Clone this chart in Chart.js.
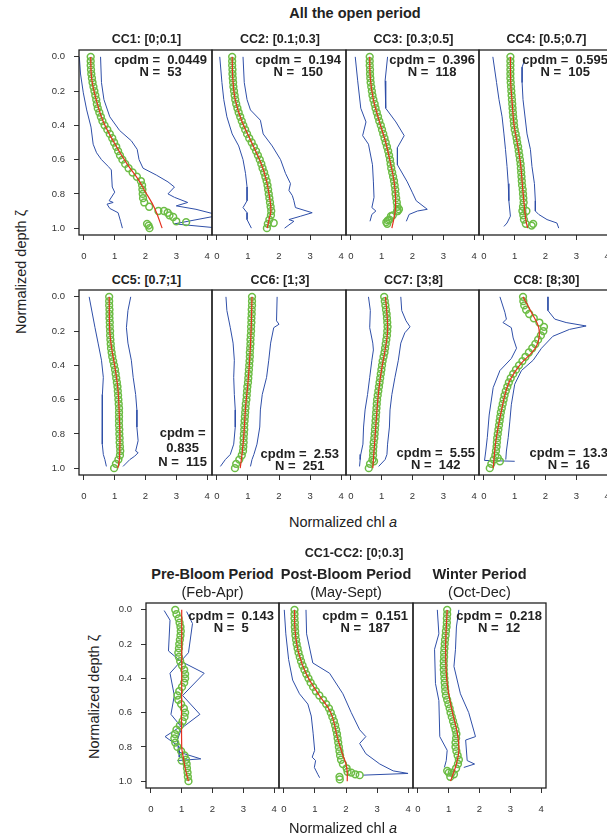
<!DOCTYPE html>
<html>
<head>
<meta charset="utf-8">
<script src="https://cdn.jsdelivr.net/npm/chart.js@4.4.1/dist/chart.umd.min.js"></script>
<style>
    body { margin: 0; width: 607px; height: 838px; overflow: hidden; background: #fff; position: relative;
           font-family: "Liberation Sans", Arial, Helvetica, sans-serif; color: #222; }
    canvas { position: absolute; }
    .lbl { position: absolute; white-space: pre; transform: translate(-50%, -50%); }
    .bold { font-weight: bold; }
    .note { position: absolute; white-space: pre; transform: translateX(-100%); text-align: center;
            font-weight: bold; font-size: 13px; line-height: 12px; }
    .rot { transform: translate(-50%, -50%) rotate(-90deg); }
</style>
</head>
<body>
<script>
// shared depth grid for the green profiles (normalized depth)
var DEPTH = [0, 0.025, 0.05, 0.075, 0.1, 0.125, 0.15, 0.175, 0.2, 0.225, 0.25, 0.275, 0.3, 0.325, 0.35, 0.375,
    0.4, 0.425, 0.45, 0.475, 0.5, 0.525, 0.55, 0.575, 0.6, 0.625, 0.65, 0.675, 0.7, 0.725, 0.75, 0.775,
    0.8, 0.825, 0.85, 0.875, 0.9, 0.925, 0.95, 0.975, 1];
var X_TICKS = [0, 1, 2, 3, 4];
var Y_TICKS = [0, 0.2, 0.4, 0.6, 0.8, 1];

var TITLES = ["CC1: [0;0.1]", "CC2: [0.1;0.3]", "CC3: [0.3;0.5]", "CC4: [0.5;0.7]",
    "CC5: [0.7;1]", "CC6: [1;3]", "CC7: [3;8]", "CC8: [8;30]"];
var PERIODS = ["Pre-Bloom Period", "Post-Bloom Period", "Winter Period"];
var MONTHS = ["(Feb-Apr)", "(May-Sept)", "(Oct-Dec)"];
var CPDM = ["0.0449", "0.194", "0.396", "0.595", "0.835", "2.53", "5.55", "13.3", "0.143", "0.151", "0.218"];
var NPROF = [53, 150, 118, 105, 115, 251, 142, 16, 5, 187, 12];

// green circles (chl values on DEPTH)
var CC1_PTS = [.22, .22, .22, .23, .24, .26, .28, .31, .34, .37, .40, .42, .45, .50, .55, .60, .67, .76, .84, .92,
    .98, 1.05, 1.11, 1.17, 1.25, 1.34, 1.45, 1.58, 1.72, 1.85, 1.89, 1.90, 1.91, 1.92, 1.96, 2.12, 2.42, 2.78, null, 2.05, 2.13];
var CC2_PTS = [.49, .49, .49, .50, .50, .51, .52, .53, .55, .57, .59, .62, .66, .70, .75, .80, .85, .91, .97, 1.04,
    1.12, 1.19, 1.26, 1.32, 1.38, 1.43, 1.47, 1.52, 1.56, 1.60, 1.63, 1.65, 1.67, 1.69, 1.71, 1.73, 1.75, 1.74, 1.69, 1.64, 1.61];
var CC3_PTS = [.61, .61, .61, .62, .62, .63, .64, .66, .68, .70, .73, .77, .80, .84, .88, .92, .97, 1.01, 1.05, 1.09,
    1.13, 1.17, 1.21, 1.24, 1.27, 1.29, 1.31, 1.34, 1.37, 1.40, 1.42, 1.44, 1.45, 1.47, 1.49, 1.51, 1.50, 1.36, 1.25, 1.18, null];
var CC4_PTS = [.86, .86, .86, .86, .86, .86, .87, .88, .89, .90, .91, .92, .93, .94, .95, .97, .98, 1.00, 1.03, 1.06,
    1.08, 1.11, 1.13, 1.15, 1.17, 1.19, 1.20, 1.21, 1.22, 1.23, 1.24, 1.26, 1.27, 1.28, 1.29, 1.27, 1.25, 1.28, 1.30, 1.36, null];
var CC5_PTS = [.82, .82, .82, .83, .83, .83, .84, .84, .85, .85, .86, .87, .88, .90, .92, .95, .98, 1.01, 1.03, 1.05,
    1.07, 1.09, 1.10, 1.11, 1.12, 1.13, 1.14, 1.14, 1.14, 1.14, 1.14, 1.15, 1.15, 1.16, 1.16, 1.17, 1.18, 1.17, 1.12, 1.04, .98];
var CC6_PTS = [1.13, 1.13, 1.13, 1.12, 1.12, 1.11, 1.11, 1.10, 1.10, 1.09, 1.08, 1.08, 1.07, 1.06, 1.06, 1.05, 1.04, 1.03, 1.02, 1.01,
    1.00, .98, .97, .96, .95, .93, .92, .91, .90, .89, .88, .88, .87, .86, .86, .85, .84, .80, .72, .62, .58];
var CC7_PTS = [1.08, 1.10, 1.12, 1.14, 1.16, 1.17, 1.18, 1.19, 1.18, 1.17, 1.15, 1.13, 1.11, 1.09, 1.06, 1.03, 1.01, .99, .97, .95,
    .93, .91, .89, .87, .85, .84, .83, .82, .81, .80, .79, .78, .77, .76, .74, .73, .72, .72, .70, .62, .58];
var CC8_PTS = [1.27, 1.28, 1.31, 1.37, 1.47, 1.62, 1.80, 1.95, 1.93, 1.85, 1.76, 1.67, 1.57, 1.46, 1.35, 1.25, 1.14, 1.04, .95, .87,
    .81, .76, .71, .67, .64, .61, .58, .55, .53, .51, .49, .47, .45, .43, .42, .41, .39, .37, .32, .24, .19];
var PRE_PTS = [.79, .83, .90, .93, .96, .97, .96, .94, .92, .91, .89, .91, .95, 1.01, 1.08, 1.11, 1.11, 1.08, 1.01, .92,
    .86, .89, .98, 1.07, 1.11, 1.09, 1.03, .94, .83, .78, .76, .79, .86, .98, 1.09, 1.14, 1.16, 1.17, 1.19, 1.20, 1.22];
var POST_PTS = [.34, .34, .34, .35, .35, .36, .37, .39, .41, .44, .47, .51, .55, .60, .66, .72, .79, .86, .94, 1.03,
    1.14, 1.26, 1.36, 1.45, 1.51, 1.56, 1.61, 1.65, 1.68, 1.71, 1.73, 1.75, 1.77, 1.79, 1.81, 1.84, 1.90, 2.02, 2.17, null, null];
var WIN_PTS = [.95, .95, .94, .94, .93, .91, .90, .88, .87, .86, .85, .85, .84, .84, .84, .85, .86, .87, .88, .89,
    .91, .95, .99, 1.03, 1.06, 1.10, 1.14, 1.18, 1.22, 1.25, 1.24, 1.22, 1.22, 1.25, 1.29, 1.33, 1.30, 1.24, 1.10, 1.05, null];

// scattered circles off the main band [chl, depth]
var CC1_EXTRA = [[2.72, .91], [2.9, .935], [3.0, .96], [3.32, .965], [2.6, .9], [2.1, .985]];
var CC2_EXTRA = [[1.83, .97]];
var CC3_EXTRA = [[1.56, .89], [1.52, .9], [1.3, .93], [1.2, .955], [1.15, .965]];
var CC4_EXTRA = [[1.55, .985], [1.6, .975], [1.38, .9]];
var CC5_EXTRA = [];
var CC6_EXTRA = [];
var CC7_EXTRA = [[.75, .96]];
var CC8_EXTRA = [[.52, .96], [.45, .94]];
var PRE_EXTRA = [[1.0, .88]];
var POST_EXTRA = [[2.05, .945], [2.3, .96], [2.44, .965], [1.79, .975], [1.8, .99]];
var WIN_EXTRA = [[.95, .94], [1.0, .95], [1.17, .96]];

// red fitted profiles [chl, depth]
var CC1_FIT = [[.22, 0], [.25, .125], [.40, .25], [.62, .375], [.98, .5], [1.40, .625], [1.78, .72], [1.97, .78], [2.3, .885], [2.54, 1]];
var CC2_FIT = [[.49, 0], [.51, .125], [.59, .25], [.80, .375], [1.12, .5], [1.43, .625], [1.60, .725], [1.70, .825], [1.74, .9], [1.68, .95], [1.62, 1]];
var CC3_FIT = [[.61, 0], [.63, .125], [.73, .25], [.92, .375], [1.13, .5], [1.29, .625], [1.40, .725], [1.45, .82], [1.44, .9], [1.33, 1]];
var CC4_FIT = [[.86, 0], [.87, .15], [.91, .25], [.98, .4], [1.08, .5], [1.19, .625], [1.25, .75], [1.30, .85], [1.36, .95], [1.42, 1]];
var CC5_FIT = [[.82, 0], [.84, .2], [.90, .3], [1.02, .425], [1.11, .55], [1.15, .7], [1.17, .85], [1.15, .95], [1.1, 1]];
var CC6_FIT = [[1.13, 0], [1.10, .2], [1.06, .35], [1.0, .5], [.92, .65], [.87, .8], [.82, .9], [.75, 1]];
var CC7_FIT = [[1.12, 0], [1.17, .1], [1.19, .2], [1.12, .3], [1.0, .42], [.9, .55], [.83, .7], [.77, .85], [.71, 1]];
var CC8_FIT = [[1.27, 0], [1.54, .09], [1.79, .19], [1.70, .29], [1.16, .40], [.79, .51], [.54, .69], [.39, .84], [.30, 1]];
var PRE_FIT = [[1.0, 0], [1.0, .4], [1.0, .8], [1.05, .86], [1.12, .93], [1.22, 1]];
var POST_FIT = [[.34, 0], [.36, .125], [.47, .25], [.72, .375], [1.14, .5], [1.51, .6], [1.73, .75], [1.90, .85], [2.0, .9], [2.04, .95], [2.04, 1]];
var WIN_FIT = [[.95, 0], [.90, .23], [.95, .43], [1.11, .59], [1.28, .72], [1.33, .82], [1.25, .9], [1.06, 1]];

// blue envelopes [chl, depth]
var CC1_LO = [[-.15, 0], [-.11, .10], [-.02, .21], [.09, .31], [.23, .41], [.30, .51], [.41, .56], [.57, .60], [.79, .64], [.89, .66],
    [.92, .76], [1.0, .79], [.82, .84], [.95, .85], [.75, .86], [.84, .885], [1.11, .91], [1.19, .96], [1.25, 1]];
var CC1_HI = [[.54, 0], [.57, .15], [.65, .25], [.84, .35], [1.16, .43], [1.54, .49], [1.73, .54], [1.79, .60], [1.92, .65], [2.35, .69],
    [2.73, .73], [2.94, .76], [2.73, .80], [2.94, .82], [3.37, .85], [3.0, .87], [3.64, .89], [4.4, .925], [2.94, .975], [4.4, 1]];
var CC2_LO = [[.09, 0], [.16, .15], [.22, .25], [.32, .35], [.49, .45], [.70, .52], [.84, .60], [.92, .68], [.97, .76], [.97, .84],
    [.84, .88], [.97, .91], [.97, .95], [1.11, 1]];
var CC2_HI = [[.84, 0], [.88, .15], [.97, .25], [1.08, .31], [1.40, .37], [1.49, .45], [1.78, .52], [2.05, .60], [2.21, .68], [2.37, .74],
    [2.32, .78], [2.43, .81], [2.48, .84], [2.53, .88], [3.07, .91], [2.70, .93], [2.32, .95], [2.48, .96], [2.18, 1]];
var CC3_LO = [[.14, 0], [.22, .14], [.32, .30], [.49, .38], [.38, .46], [.57, .51], [.70, .63], [.73, .73], [.75, .82], [.68, .88],
    [.81, .90], [.68, .92], [.62, .96]];
var CC3_HI = [[1.19, 0], [1.11, .14], [1.13, .30], [1.46, .38], [1.73, .46], [1.51, .53], [1.51, .63], [1.83, .73], [1.99, .79], [2.12, .84],
    [2.48, .89], [2.16, .90], [1.89, .92], [1.80, .96]];
var CC4_LO = [[.29, 0], [.41, .15], [.49, .25], [.59, .35], [.65, .45], [.70, .54], [.75, .64], [.79, .74], [.81, .84], [.86, .93],
    [.75, .97], [.65, .99]];
var CC4_HI = [[1.32, .02], [1.24, .06], [1.24, .15], [1.27, .25], [1.40, .45], [1.51, .54], [1.56, .64], [1.64, .74], [1.67, .84], [1.67, .9],
    [1.78, .92], [2.05, .95], [2.37, .97], [2.43, 1]];
var CC5_LO = [[.17, 0], [.36, .18], [.46, .27], [.57, .37], [.63, .47], [.60, .57], [.60, .66], [.59, .76], [.60, .86], [.63, .92],
    [.68, .95], [.73, .99]];
var CC5_HI = [[1.52, 0], [1.43, .08], [1.38, .18], [1.43, .27], [1.54, .37], [1.60, .47], [1.68, .57], [1.72, .66], [1.72, .76], [1.76, .84],
    [1.68, .90], [1.76, .91], [1.65, .93], [1.49, .95], [1.27, .99]];
var CC6_LO = [[.29, 0], [.32, .08], [.43, .18], [.52, .27], [.56, .37], [.54, .47], [.56, .57], [.59, .66], [.59, .76], [.54, .86],
    [.43, .92], [.27, .95], [.11, .99]];
var CC6_HI = [[1.94, 0], [1.92, .14], [2.0, .16], [1.83, .18], [1.73, .27], [1.67, .37], [1.60, .47], [1.46, .57], [1.40, .66], [1.38, .76],
    [1.29, .86], [1.19, .92], [1.13, .95], [1.08, .99]];
var CC7_LO = [[.57, 0], [.63, .08], [.61, .18], [.71, .27], [.73, .31], [.68, .37], [.61, .47], [.54, .57], [.46, .66], [.41, .76],
    [.39, .86], [.32, .92], [.30, .95], [.28, .99]];
var CC7_HI = [[1.62, 0], [1.65, .08], [1.79, .14], [1.92, .175], [1.75, .21], [1.62, .27], [1.54, .37], [1.43, .47], [1.33, .57], [1.27, .66],
    [1.25, .76], [1.19, .86], [1.17, .92], [1.11, .95], [.90, .99]];
var CC8_LO = [[.52, 0], [.68, .09], [.73, .13], [.62, .15], [.89, .18], [.95, .24], [1.06, .30], [.89, .36], [.52, .43], [.30, .53],
    [.17, .69], [.11, .82], [.06, .90], [.02, .955], [1.0, .96]];
var CC8_HI = [[2.08, 0], [2.08, .08], [2.3, .13], [2.67, .15], [3.32, .17], [2.78, .19], [2.24, .23], [1.87, .30], [1.6, .37], [1.22, .43],
    [1.0, .51], [.89, .63], [.84, .73], [.79, .82], [.73, .90], [.71, .95]];
var PRE_LO = [[.43, .004], [.62, .06], [.57, .24], [.97, .30], [.62, .37], [.76, .50], [.65, .61], [.97, .68], [.46, .74], [.92, .80], [.92, .86]];
var PRE_HI = [[1.16, .01], [1.35, .08], [1.22, .25], [.97, .30], [1.73, .37], [1.03, .50], [1.59, .61], [1.0, .69], [.86, .76], [.90, .83],
    [1.62, .87], [.86, .88]];
var POST_LO = [[.01, 0], [.06, .14], [.15, .29], [.28, .41], [.50, .49], [.77, .55], [.88, .62], [.94, .72], [.99, .82], [.91, .86],
    [1.02, .88], [.98, .92], [1.09, .96], [1.15, .98]];
var POST_HI = [[.71, 0], [.73, .14], [.93, .31], [1.47, .37], [1.90, .49], [2.17, .60], [2.44, .70], [2.64, .74], [2.44, .78], [2.64, .84],
    [3.09, .90], [3.52, .94], [4.0, .955], [2.55, .965]];
var WIN_LO = [[.63, 0], [.68, .14], [.54, .23], [.57, .43], [.68, .53], [.71, .74], [.95, .82], [.92, .88], [.86, .92]];
var WIN_HI = [[1.33, 0], [1.25, .10], [1.22, .23], [1.17, .33], [1.38, .49], [1.65, .60], [1.87, .74], [1.55, .76], [1.60, .88], [1.84, .90], [1.49, .92]];

(function () {
    var FONT = '"Liberation Sans", Arial, Helvetica, sans-serif';
    var GREEN = "#6cbd45";
    var RED = "#e5301f";
    var BLUE = "#2f4fa8";
    var AXIS = "#333";

    // frames of the 11 panels (left, top, width); height is 185 for all
    var PANELS = [
        { pts: CC1_PTS, extra: CC1_EXTRA, fit: CC1_FIT, lo: CC1_LO, hi: CC1_HI, left: 79, top: 50, width: 133, yAxis: true },
        { pts: CC2_PTS, extra: CC2_EXTRA, fit: CC2_FIT, lo: CC2_LO, hi: CC2_HI, left: 212, top: 50, width: 134 },
        { pts: CC3_PTS, extra: CC3_EXTRA, fit: CC3_FIT, lo: CC3_LO, hi: CC3_HI, left: 346, top: 50, width: 133 },
        { pts: CC4_PTS, extra: CC4_EXTRA, fit: CC4_FIT, lo: CC4_LO, hi: CC4_HI, left: 479, top: 50, width: 133 },
        { pts: CC5_PTS, extra: CC5_EXTRA, fit: CC5_FIT, lo: CC5_LO, hi: CC5_HI, left: 79, top: 290, width: 133, yAxis: true },
        { pts: CC6_PTS, extra: CC6_EXTRA, fit: CC6_FIT, lo: CC6_LO, hi: CC6_HI, left: 212, top: 290, width: 134 },
        { pts: CC7_PTS, extra: CC7_EXTRA, fit: CC7_FIT, lo: CC7_LO, hi: CC7_HI, left: 346, top: 290, width: 133 },
        { pts: CC8_PTS, extra: CC8_EXTRA, fit: CC8_FIT, lo: CC8_LO, hi: CC8_HI, left: 479, top: 290, width: 133 },
        { pts: PRE_PTS, extra: PRE_EXTRA, fit: PRE_FIT, lo: PRE_LO, hi: PRE_HI, left: 146, top: 603, width: 133, yAxis: true },
        { pts: POST_PTS, extra: POST_EXTRA, fit: POST_FIT, lo: POST_LO, hi: POST_HI, left: 279, top: 603, width: 134 },
        { pts: WIN_PTS, extra: WIN_EXTRA, fit: WIN_FIT, lo: WIN_LO, hi: WIN_HI, left: 413, top: 603, width: 133 }
    ];
    var HEIGHT = 185;
    var Y_AXIS_W = 35;
    var X_AXIS_H = 30;

    // where the cpdm / N notes sit: right edge, centre of first line
    var NOTES = [
        [207, 60], [341, 60], [475, 60], [608, 60],
        [207, 433], [339, 454], [475, 453], [608, 453],
        [274, 616], [408, 616], [542, 616]
    ];

    var framePlugin = {
        id: "frame",
        afterDraw: function (chart) {
            var a = chart.chartArea;
            var ctx = chart.ctx;
            ctx.save();
            ctx.strokeStyle = "#222";
            ctx.lineWidth = 1.3;
            ctx.strokeRect(a.left, a.top, a.right - a.left, a.bottom - a.top);
            ctx.restore();
        }
    };

    function onGrid(xs) {
        var out = [];
        xs.forEach(function (x, i) {
            if (x !== null) {
                out.push({ x: x, y: DEPTH[i] });
            }
        });
        return out;
    }

    function xy(list) {
        return list.map(function (p) {
            return { x: p[0], y: p[1] };
        });
    }

    function text(str, x, y, css) {
        var el = document.createElement("div");
        el.className = "lbl" + (css && css.cls ? " " + css.cls : "");
        el.style.left = x + "px";
        el.style.top = y + "px";
        el.style.fontSize = (css && css.size ? css.size : 13) + "px";
        if (css && css.html) {
            el.innerHTML = str;
        } else {
            el.textContent = str;
        }
        document.body.appendChild(el);
        return el;
    }

    function tickSet(values) {
        return function (scale) {
            scale.ticks = values.map(function (v) {
                return { value: v };
            });
        };
    }

    function renderPanel(p) {
        var axisW = p.yAxis ? Y_AXIS_W : 0;
        var canvas = document.createElement("canvas");
        var w = p.width + 2 + axisW;
        var h = HEIGHT + 2 + X_AXIS_H;
        canvas.width = w;
        canvas.height = h;
        canvas.style.left = (p.left - 1 - axisW) + "px";
        canvas.style.top = (p.top - 2) + "px";
        canvas.style.width = w + "px";
        canvas.style.height = h + "px";
        document.body.appendChild(canvas);

        var green = onGrid(p.pts).concat(xy(p.extra));

        new Chart(canvas.getContext("2d"), {
            type: "scatter",
            data: {
                datasets: [
                    { data: xy(p.fit), showLine: true, borderColor: RED, borderWidth: 1.2, pointRadius: 0, tension: 0.4 },
                    { data: green, showLine: false, pointRadius: 3.4, pointBorderWidth: 1.5,
                      pointBorderColor: GREEN, pointBackgroundColor: "rgba(0,0,0,0)" },
                    { data: xy(p.lo), showLine: true, borderColor: BLUE, borderWidth: 1, pointRadius: 0, tension: 0 },
                    { data: xy(p.hi), showLine: true, borderColor: BLUE, borderWidth: 1, pointRadius: 0, tension: 0 }
                ]
            },
            options: {
                responsive: false,
                animation: false,
                devicePixelRatio: 1,
                events: [],
                layout: { autoPadding: false, padding: { left: 1, right: 1, top: 2, bottom: 0 } },
                plugins: { legend: { display: false }, tooltip: { enabled: false } },
                scales: {
                    x: {
                        type: "linear",
                        min: -0.16,
                        max: 4.16,
                        afterBuildTicks: tickSet(X_TICKS),
                        afterFit: function (s) {
                            s.height = X_AXIS_H;
                            s.paddingLeft = 0;
                            s.paddingRight = 0;
                        },
                        grid: { drawOnChartArea: false, drawTicks: true, tickLength: 5, color: AXIS },
                        border: { display: false },
                        ticks: { padding: 11, color: AXIS, maxRotation: 0, font: { size: 9.5, family: FONT } }
                    },
                    y: {
                        type: "linear",
                        reverse: true,
                        min: -0.04,
                        max: 1.04,
                        display: !!p.yAxis,
                        afterBuildTicks: tickSet(Y_TICKS),
                        afterFit: function (s) {
                            s.width = axisW;
                            s.paddingTop = 0;
                            s.paddingBottom = 0;
                        },
                        grid: { drawOnChartArea: false, drawTicks: true, tickLength: 5, color: AXIS },
                        border: { display: false },
                        ticks: {
                            padding: 9,
                            color: AXIS,
                            font: { size: 9.5, family: FONT },
                            callback: function (v) { return Number(v).toFixed(1); }
                        }
                    }
                }
            },
            plugins: [framePlugin]
        });
    }

    function init() {
        PANELS.forEach(renderPanel);

        // notes inside the panels
        NOTES.forEach(function (n, i) {
            var el = document.createElement("div");
            el.className = "note";
            var lines = i === 4 ?
                ["cpdm =", CPDM[i], "N =  " + NPROF[i]] :
                ["cpdm =  " + CPDM[i], "N =  " + NPROF[i]];
            if (i === 4) {
                el.style.lineHeight = "14.5px";
            }
            el.textContent = lines.join("\n");
            el.style.left = n[0] + "px";
            el.style.top = (n[1] - (i === 4 ? 7 : 6)) + "px";
            document.body.appendChild(el);
        });

        text("All the open period", 355, 13, { cls: "bold", size: 14.5 });
        TITLES.forEach(function (t, i) {
            var p = PANELS[i];
            text(t, p.left + p.width / 2 + 1, i < 4 ? 39 : 280, { cls: "bold", size: 12.5 });
        });
        text("Normalized chl <i>a</i>", 343, 522, { size: 14.5, html: true });
        text("Normalized depth \u03b6", 21, 272, { cls: "rot", size: 14.5 });

        text("CC1-CC2: [0;0.3]", 354, 553, { cls: "bold", size: 12.5 });
        PERIODS.forEach(function (t, i) {
            var p = PANELS[8 + i];
            var cx = p.left + p.width / 2;
            text(t, cx, 574, { cls: "bold", size: 14.5 });
            text(MONTHS[i], cx, 592, { size: 14.5 });
        });
        text("Normalized chl <i>a</i>", 343, 828, { size: 14.5, html: true });
        text("Normalized depth \u03b6", 94, 697, { cls: "rot", size: 14.5 });
    }

    init();
})();
</script>
</body>
</html>
